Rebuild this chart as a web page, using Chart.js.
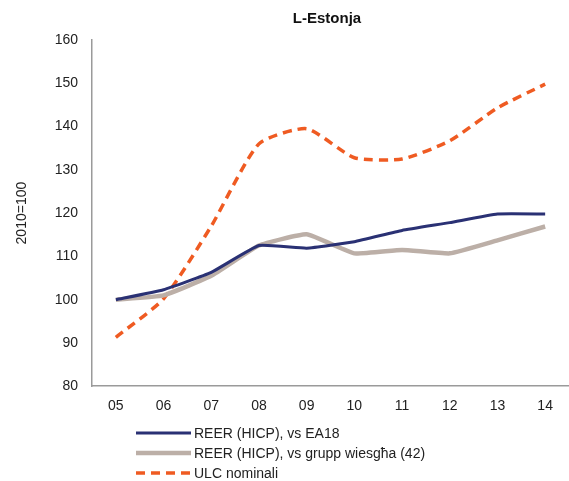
<!DOCTYPE html>
<html>
<head>
<meta charset="utf-8">
<script src="https://cdn.jsdelivr.net/npm/chart.js@4/dist/chart.umd.min.js"></script>
<style>
  html, body { margin: 0; padding: 0; background: #ffffff; }
  #wrap { position: relative; width: 569px; height: 481px; }
</style>
</head>
<body>
<div id="wrap"><canvas id="c" width="569" height="481"></canvas></div>
<script>
// Years (2005-2014) and the three indices, 2010 = 100
const years = ['05', '06', '07', '08', '09', '10', '11', '12', '13', '14'];
const reerEA18 = [100, 102.3, 106.3, 112.5, 111.9, 113.4, 116.0, 117.8, 119.8, 119.8];
const reerGroup42 = [100, 101.0, 105.5, 112.5, 115.1, 110.7, 111.5, 110.7, 113.7, 116.9];
const ulcNominal = [91.3, 100.2, 117.0, 136.0, 139.5, 132.8, 132.5, 136.7, 144.3, 149.8];
const yTicks = [80, 90, 100, 110, 120, 130, 140, 150, 160];

const seriesNames = ['REER (HICP), vs EA18', 'REER (HICP), vs grupp wiesgħa (42)', 'ULC nominali'];
const chartTitle = 'L-Estonja';
const yTitle = '2010=100';

const FONT = '"Liberation Sans", Arial, sans-serif';

// Title centred over the plot area, and a stacked legend under the x axis
const decorations = {
  id: 'decorations',
  afterDraw(chart) {
    const ctx = chart.ctx;
    ctx.save();
    ctx.fillStyle = '#111111';
    ctx.font = 'bold 15px ' + FONT;
    ctx.textAlign = 'center';
    ctx.textBaseline = 'middle';
    ctx.fillText(chartTitle, 327, 19);

    const rows = [433, 453, 473];
    chart.data.datasets.forEach((ds, i) => {
      const y = rows[i];
      ctx.beginPath();
      ctx.strokeStyle = ds.borderColor;
      ctx.lineWidth = ds.borderWidth;
      ctx.setLineDash(ds.borderDash || []);
      ctx.lineCap = 'butt';
      ctx.moveTo(136, y);
      ctx.lineTo(191, y);
      ctx.stroke();
      ctx.setLineDash([]);
      ctx.fillStyle = '#222222';
      ctx.font = '14px ' + FONT;
      ctx.textAlign = 'left';
      ctx.textBaseline = 'middle';
      ctx.fillText(seriesNames[i], 194, y + 1);
    });
    ctx.restore();
  }
};

new Chart(document.getElementById('c'), {
  type: 'line',
  data: {
    labels: years,
    datasets: [
      {
        label: seriesNames[0],
        data: reerEA18,
        borderColor: '#2a3174',
        borderWidth: 3,
        pointRadius: 0,
        tension: 0.12,
        fill: false
      },
      {
        label: seriesNames[1],
        data: reerGroup42,
        borderColor: '#bcafa7',
        borderWidth: 4.5,
        pointRadius: 0,
        tension: 0.12,
        fill: false
      },
      {
        label: seriesNames[2],
        data: ulcNominal,
        borderColor: '#ef5b22',
        borderWidth: 3.5,
        borderDash: [9, 6],
        pointRadius: 0,
        tension: 0.2,
        fill: false
      }
    ]
  },
  options: {
    responsive: false,
    animation: false,
    devicePixelRatio: 1,
    layout: { padding: { top: 40, right: -5, bottom: 54, left: 14 } },
    plugins: {
      legend: { display: false },
      title: { display: false },
      tooltip: { enabled: false }
    },
    scales: {
      x: {
        offset: true,
        grid: { display: false, drawTicks: false },
        border: { display: true, color: '#9a9a9a', width: 1.5 },
        ticks: { color: '#222222', font: { family: FONT, size: 14 }, padding: 12, maxRotation: 0, autoSkip: false }
      },
      y: {
        min: 80,
        max: 160,
        afterBuildTicks(scale) { scale.ticks = yTicks.map(v => ({ value: v })); },
        afterFit(scale) { scale.width = 78; },
        grid: { display: false, drawTicks: false },
        border: { display: true, color: '#9a9a9a', width: 1.5 },
        ticks: { color: '#222222', font: { family: FONT, size: 14 }, padding: 14 },
        title: { display: true, text: yTitle, color: '#222222', font: { family: FONT, size: 14 }, padding: { top: 0, bottom: 14 } }
      }
    }
  },
  plugins: [decorations]
});
</script>
</body>
</html>
